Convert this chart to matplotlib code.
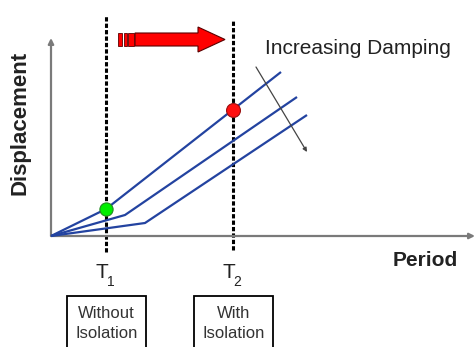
import matplotlib
matplotlib.use("Agg")
import matplotlib.pyplot as plt
from matplotlib.patches import FancyArrow, Rectangle

plt.rcParams["font.family"] = ["Liberation Sans", "DejaVu Sans"]

# schematic spectrum: displacement vs period for three damping levels
T1 = 55
T2 = 182
low_period = [0, 55, 230]
low_disp = [0, 27, 164]
mid_period = [0, 74, 246]
mid_disp = [0, 21, 139]
high_period = [0, 94, 256]
high_disp = [0, 13, 121]
fixed_disp = 27       # conventional structure at T1
isolated_disp = 126   # isolated structure at T2

period_labels = ["1", "2"]
box_labels = ["Without\nIsolation", "With\nIsolation"]

BLUE = "#2343a0"

fig = plt.figure(figsize=(4.76, 3.47), dpi=100)
ax = fig.add_axes([0, 0, 1, 1])
ax.set_xlim(-51, 425)
ax.set_ylim(-111, 236)
ax.axis("off")

# axes with arrow heads
axis_kw = dict(arrowstyle="-|>", color="#7a7a7a", lw=1.6, mutation_scale=8,
               shrinkA=0, shrinkB=0)
ax.annotate("", xy=(0, 198), xytext=(0, 0), arrowprops=axis_kw)
ax.annotate("", xy=(424, 0), xytext=(0, 0), arrowprops=axis_kw)

for p, d in [(low_period, low_disp), (mid_period, mid_disp),
             (high_period, high_disp)]:
    ax.plot(p, d, color=BLUE, lw=1.6, solid_capstyle="butt", zorder=3)

# period markers
ax.plot([T1, T1], [-16, 220], color="black", lw=2.2, ls=(0, (1.4, 0.7)), zorder=2)
ax.plot([T2, T2], [-14, 217], color="black", lw=2.2, ls=(0, (1.4, 0.7)), zorder=2)

ax.plot([T1], [fixed_disp], "o", ms=9.5, mfc="#00ee00", mec="#228822", mew=0.8,
        zorder=5)
ax.plot([T2], [isolated_disp], "o", ms=10, mfc="#ff1010", mec="#991010", mew=0.8,
        zorder=5)

# period shift arrow with striped tail
ax.add_patch(FancyArrow(84, 196.5, 90, 0, width=13, head_width=25,
                        head_length=27, length_includes_head=True,
                        fc="#ff0000", ec="#5a0000", lw=0.8, zorder=4))
for x0, w in [(67, 4), (72.5, 3.5), (77, 5.5)]:
    ax.add_patch(Rectangle((x0, 190), w, 13, fc="#ff0000", ec="#5a0000",
                           lw=0.6, zorder=4))

# damping direction
ax.annotate("", xy=(256, 84), xytext=(205, 169),
            arrowprops=dict(arrowstyle="-|>", color="#444444", lw=0.9,
                            mutation_scale=6, shrinkA=0, shrinkB=0))
ax.text(214, 188, "Increasing Damping", fontsize=15, color="#222222",
        ha="left", va="center")

ax.text(374, -24, "Period", fontsize=15, fontweight="bold", color="#222222",
        ha="center", va="center")
ax.text(-31, 113, "Displacement", fontsize=16, fontweight="bold",
        color="#222222", ha="center", va="center", rotation=90)

for t, sub in zip([T1, T2], period_labels):
    ax.text(t - 4.5, -37, "T", fontsize=15, color="#222222",
            ha="center", va="center")
    ax.text(t + 4.5, -46, sub, fontsize=10, color="#222222",
            ha="center", va="center")

for t, lab in zip([T1, T2], box_labels):
    ax.add_patch(Rectangle((t - 39.5, -130), 79, 70, fc="white",
                           ec="black", lw=1.3, zorder=2))
    ax.text(t + 0.5, -87.5, lab, fontsize=12, color="#333333",
            ha="center", va="center", linespacing=1.35, zorder=3)

fig.savefig("out.png", dpi=100)
